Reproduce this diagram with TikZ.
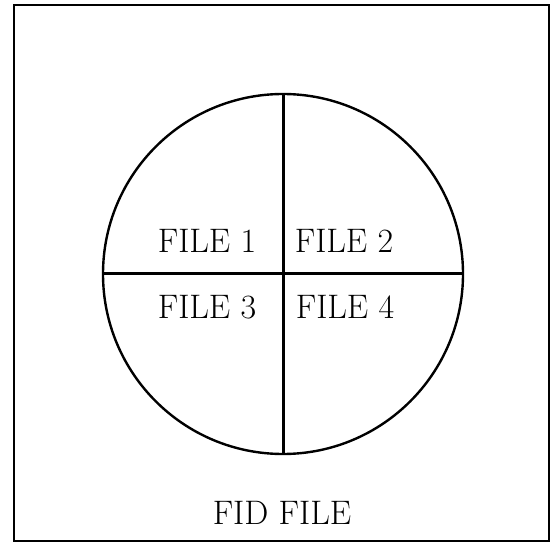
\documentclass[tikz,border=0pt]{standalone}
\usepackage{fontspec}
\begin{document}
\begin{tikzpicture}[x=1pt,y=-1pt,
  lbl/.style={font=\fontsize{34}{40}\selectfont, inner sep=0pt},
  frame/.style={line width=2pt},
  divider/.style={line width=3pt}]
\useasboundingbox (0,0) rectangle (552,548);
\draw[frame] (14,5) rectangle (549,541);
\coordinate (c) at (283,274);
\node[circle, draw, line width=2.4pt, minimum size=360pt, inner sep=0pt] (disk) at (c) {};
\draw[divider] (disk.north) -- (disk.south);
\draw[divider] (disk.west) -- (disk.east);
\node[lbl] (f1) at (207,241) {FILE 1};
\node[lbl] (f2) at (344,241) {FILE 2};
\node[lbl] (f3) at (207,307) {FILE 3};
\node[lbl] (f4) at (345,307) {FILE 4};
\node[lbl] (fid) at (282,513) {FID FILE};
\end{tikzpicture}
\end{document}
